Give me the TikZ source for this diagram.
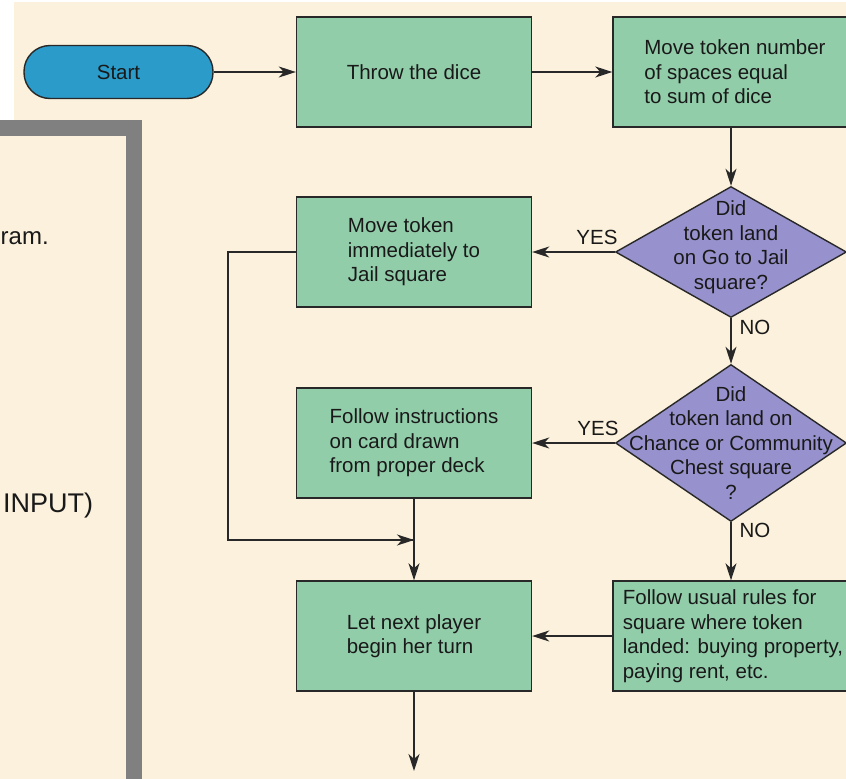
\documentclass[tikz,border=0pt]{standalone}
\usepackage{fontspec}
\setmainfont{Liberation Sans}
\usetikzlibrary{shapes.geometric,arrows.meta}
\definecolor{cream}{RGB}{251,241,220}
\definecolor{boxgreen}{RGB}{146,205,170}
\definecolor{diapurple}{RGB}{151,146,205}
\definecolor{startblue}{RGB}{43,155,201}
\definecolor{linegray}{RGB}{40,40,40}
\definecolor{panelgray}{RGB}{128,128,128}
\tikzset{
  txt/.style={font=\fontsize{20.5}{24.5}\selectfont, text=black!90},
  procbox/.style={txt, draw=linegray, line width=1.4pt, fill=boxgreen, minimum width=235pt, minimum height=110pt, align=left, inner sep=0pt},
  startbox/.style={txt, draw=linegray, line width=1.4pt, fill=startblue, rounded corners=26pt, minimum width=189pt, minimum height=53pt, inner sep=0pt},
  decbox/.style={shape=diamond, draw=linegray, line width=1.4pt, fill=diapurple, inner sep=0pt, minimum width=231pt},
  dectext/.style={txt, align=center, inner sep=0pt},
  lbl/.style={txt, inner sep=0pt},
  conn/.style={draw=linegray, line width=1.3pt},
  arr/.style={conn, -{Stealth[length=17pt,width=11pt,inset=5pt]}}
}
\begin{document}
\begin{tikzpicture}[x=1pt,y=-1pt]
\useasboundingbox (0,0) rectangle (846,779);
\clip (0,0) rectangle (846,779);
% backgrounds
\fill[white] (0,0) rectangle (846,779);
\fill[cream] (14,2) rectangle (846,779);
\fill[panelgray] (-10,120) rectangle (142,790);
\fill[cream] (-10,136) rectangle (126,790);
\node[lbl, font=\fontsize{24}{28}\selectfont, anchor=base west] (p1) at (0.5,244) {ram.};
\node[lbl, font=\fontsize{27}{30}\selectfont, anchor=base west] (p2) at (3,512) {INPUT)};
% nodes
\node[startbox] (start) at (118.5,72) {Start};
\node[procbox] (b1) at (414,72) {Throw the dice};
\node[procbox, minimum width=244pt] (b2) at (735,72) {Move token number\\of spaces equal\\to sum of dice};
\node[decbox, minimum height=131pt] (d1) at (731,252) {};
\node[dectext] (t1) at (731,247) {Did\\token land\\on Go to Jail\\square?};
\node[procbox] (b3) at (414,252) {Move token\\immediately to\\Jail square};
\node[decbox, minimum height=157pt] (d2) at (731,443) {};
\node[dectext] (t2) at (731,443) {Did\\token land on\\Chance or Community\\Chest square\\?};
\node[procbox] (b4) at (414,443) {Follow instructions\\on card drawn\\from proper deck};
\node[procbox] (b5) at (414,636) {Let next player\\begin her turn};
\node[procbox, minimum width=240pt] (b6) at (733,636) {Follow usual rules for\\square where token\\landed: buying property,\\paying rent, etc.};
% labels
\node[lbl] (y1) at (597,237) {YES};
\node[lbl] (n1) at (755,327) {NO};
\node[lbl] (y2) at (598,428) {YES};
\node[lbl] (n2) at (755,530) {NO};
% coordinates
\coordinate (c1) at (228,252);
\coordinate (c2) at (228,540);
\coordinate (j) at (414,540);
\coordinate (endp) at (414,771);
% connectors
\draw[arr] (start.east) -- (b1.west);
\draw[arr] (b1.east) -- (b2.west |- b1.east);
\draw[arr] (b2.south -| d1.north) -- (d1.north);
\draw[arr] (d1.west) -- (b3.east);
\draw[arr] (d1.south) -- (d2.north);
\draw[arr] (d2.west) -- (b4.east);
\draw[arr] (d2.south) -- (b6.north -| d2.south);
\draw[arr] (b6.west) -- (b5.east);
\draw[conn] (b3.west) -- (c1) -- (c2) -- (j);
\draw[arr] (c2) -- (j);
\draw[arr] (b4.south) -- (b5.north);
\draw[arr] (b5.south) -- (endp);
\end{tikzpicture}
\end{document}
